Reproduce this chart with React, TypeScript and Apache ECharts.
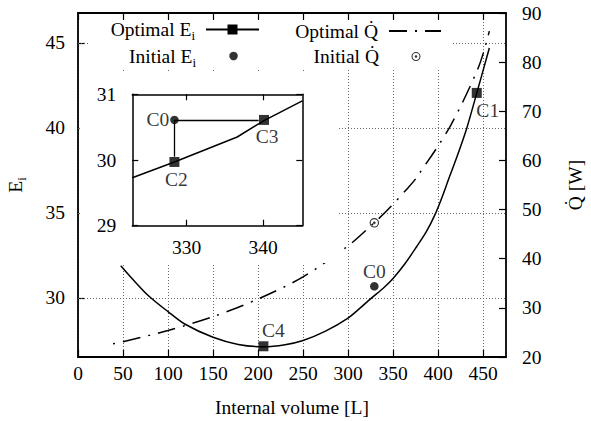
import React, { useEffect, useRef } from 'react';
import * as echarts from 'echarts';

// ---------- data ----------
const NAME_OPT_E = 'Optimal E_i';
const NAME_INIT_E = 'Initial E_i';
const NAME_OPT_Q = 'Optimal Q\u0307';
const NAME_INIT_Q = 'Initial Q\u0307';

const volumeE = [47.5, 60, 78, 100, 118.5, 150, 178, 206, 230, 250, 275, 300, 313, 325, 340, 350, 363, 376, 387, 397, 405, 411.5, 421, 432, 443, 457];
const optimalE = [31.9, 31.15, 30.15, 29.2, 28.47, 27.69, 27.27, 27.13, 27.25, 27.5, 28.05, 28.82, 29.39, 29.95, 30.62, 31.15, 32.0, 33.0, 33.9, 34.95, 36.0, 36.95, 38.3, 40.0, 42.05, 44.7];

const volumeQ = [39, 50, 100, 150, 200, 250, 300, 329, 344.4, 365, 376, 413, 445, 457];
const optimalQ = [22.7, 23.1, 25.4, 28.2, 31.8, 36.3, 42.6, 47.3, 50.0, 54.1, 56.5, 66.8, 79.0, 86.3];

const optPointVolume = [206, 443];
const optPointE = [27.16, 42.06];
const optPointLabel = ['C4', 'C1'];

const initPointVolume = [329.2];
const initPointE = [30.69];
const initPointQ = [47.3];
const initPointLabel = ['C0'];

const insetVolume = [322.9, 328.4, 336.6, 340.1, 345.1];
const insetE = [29.73, 29.97, 30.35, 30.6, 30.9];
const insetOptVolume = [328.4, 340.1];
const insetOptE = [29.97, 30.61];
const insetOptLabel = ['C2', 'C3'];
const insetInitVolume = [328.4];
const insetInitE = [30.61];
const insetInitLabel = ['C0'];
const arrowEnds = [[339.4, 30.61], [328.4, 30.05]];

const xTicks = [0, 50, 100, 150, 200, 250, 300, 350, 400, 450];
const eTicks = [30, 35, 40, 45];
const insetXTicks = [330, 340];

// ---------- style ----------
const FONT = 'Liberation Serif';
const FS = 19.5;
const txt = { fontFamily: FONT, fontSize: FS, color: '#000' };
const subStyle = { fontFamily: FONT, fontSize: 13, color: '#000', padding: [12, 0, 0, 0] };
const axisLineStyle = { color: '#000', width: 1.8 };
const tickLine = { color: '#000', width: 1.2 };
const gridLineStyle = { color: '#666', width: 1, type: [1, 2] };
const ringSymbol =
  'path://M10,0A10,10,0,1,1,-10,0A10,10,0,1,1,10,0ZM7.6,0A7.6,7.6,0,1,0,-7.6,0A7.6,7.6,0,1,0,7.6,0ZM2.8,0A2.8,2.8,0,1,1,-2.8,0A2.8,2.8,0,1,1,2.8,0Z';

const fmtName = (n: string) => n.replace('_i', '{sub|i}');

const pointLabel = (extra: any) => ({
  show: true,
  ...txt,
  lineHeight: 22,
  formatter: (p: any) => p.name,
  ...extra,
});

function legendFor(name: string, right: number, top: number, itemWidth: number, itemHeight: number, extra: any = {}) {
  return {
    data: [name],
    orient: 'horizontal',
    align: 'right',
    right,
    top,
    itemWidth,
    itemHeight,
    padding: 0,
    itemGap: 0,
    selectedMode: false,
    formatter: fmtName,
    textStyle: { ...txt, lineHeight: 22, padding: [0, 6, 0, 0], rich: { sub: subStyle } },
    ...extra,
  };
}

function buildOption(): any {
  const mainXBase = {
    type: 'value',
    gridIndex: 0,
    min: 0,
    max: 475.5,
    interval: 50,
    axisLine: { show: true, onZero: false, lineStyle: axisLineStyle },
    axisTick: { show: true, inside: true, length: 7, lineStyle: tickLine, customValues: xTicks },
  };
  const insetXBase = {
    type: 'value',
    gridIndex: 1,
    min: 322.9,
    max: 345.1,
    z: 6,
    axisLine: { show: true, onZero: false, lineStyle: { color: '#000', width: 1.5 } },
    axisTick: { show: true, inside: true, length: 6, lineStyle: tickLine, customValues: insetXTicks },
    splitLine: { show: false },
  };
  const insetYBase = {
    type: 'value',
    gridIndex: 1,
    min: 29,
    max: 31,
    interval: 1,
    z: 6,
    axisLine: { show: true, onZero: false, lineStyle: { color: '#000', width: 1.5 } },
    axisTick: { show: true, inside: true, length: 6, lineStyle: tickLine },
    splitLine: { show: false },
  };

  return {
    animation: false,
    backgroundColor: '#fff',
    textStyle: { fontFamily: FONT },
    grid: [
      { left: 78, top: 13, width: 428, height: 344, containLabel: false, outerBoundsMode: 'none' },
      { left: 132.3, top: 94.3, width: 170, height: 131.4, containLabel: false, outerBoundsMode: 'none' },
    ],
    legend: [
      legendFor(NAME_OPT_E, 331, 18.5, 53, 12.5),
      legendFor(NAME_INIT_E, 353.2, 45, 53, 8.5),
      legendFor(NAME_OPT_Q, 149, 20, 52, 10, { itemStyle: { opacity: 0 }, lineStyle: { dashOffset: 0 } }),
      legendFor(NAME_INIT_Q, 170.5, 45.5, 52, 9),
    ],
    graphic: {
      elements: [
        { type: 'rect', z: 3, silent: true, shape: { x: 90, y: 20, width: 362, height: 48 }, style: { fill: '#fff' } },
        { type: 'rect', z: 3, silent: true, shape: { x: 79.6, y: 71, width: 258.4, height: 192 }, style: { fill: '#fff' } },
      ],
    },
    xAxis: [
      {
        ...mainXBase,
        position: 'bottom',
        name: 'Internal volume [L]',
        nameLocation: 'middle',
        nameGap: 40,
        nameTextStyle: txt,
        axisLabel: { ...txt, margin: 6, customValues: xTicks },
        splitLine: { show: true, lineStyle: gridLineStyle },
      },
      {
        ...mainXBase,
        position: 'top',
        axisLabel: { show: false },
        splitLine: { show: false },
      },
      {
        ...insetXBase,
        position: 'bottom',
        axisLabel: { ...txt, margin: 12, customValues: insetXTicks },
      },
      {
        ...insetXBase,
        position: 'top',
        axisLabel: { show: false },
      },
    ],
    yAxis: [
      {
        type: 'value',
        gridIndex: 0,
        position: 'left',
        min: 26.53,
        max: 46.76,
        name: 'E{sub|i}',
        nameLocation: 'middle',
        nameRotate: 90,
        nameGap: 50,
        nameTextStyle: { ...txt, rich: { sub: subStyle } },
        axisLine: { show: true, onZero: false, lineStyle: axisLineStyle },
        axisTick: { show: true, inside: true, length: 7, lineStyle: tickLine, customValues: eTicks },
        axisLabel: { ...txt, margin: 13, customValues: eTicks },
        splitLine: { show: false },
      },
      {
        type: 'value',
        gridIndex: 0,
        position: 'right',
        min: 20,
        max: 90,
        interval: 10,
        name: 'Q\u0307 [W]',
        nameLocation: 'middle',
        nameRotate: 90,
        nameGap: 59,
        nameTextStyle: txt,
        axisLine: { show: true, onZero: false, lineStyle: axisLineStyle },
        axisTick: { show: true, inside: true, length: 7, lineStyle: tickLine },
        axisLabel: { ...txt, margin: 16 },
        splitLine: { show: false },
      },
      { ...insetYBase, position: 'left', axisLabel: { ...txt, margin: 16 } },
      { ...insetYBase, position: 'right', axisLabel: { show: false } },
    ],
    series: [
      {
        name: NAME_OPT_E,
        type: 'line',
        xAxisIndex: 0,
        yAxisIndex: 0,
        data: volumeE.map((v, i) => [v, optimalE[i]]),
        smooth: 0.3,
        symbol: 'rect',
        symbolSize: 10,
        showSymbol: false,
        itemStyle: { color: '#000' },
        lineStyle: { color: '#000', width: 1.5 },
        silent: true,
        z: 2,
        markLine: {
          silent: true,
          z: 2,
          symbol: 'none',
          label: { show: false },
          lineStyle: gridLineStyle,
          emphasis: { disabled: true },
          data: eTicks.map((v) => ({ yAxis: v })),
        },
      },
      {
        name: NAME_OPT_E,
        type: 'scatter',
        xAxisIndex: 0,
        yAxisIndex: 0,
        symbol: 'rect',
        symbolSize: 10,
        itemStyle: { color: '#000' },
        z: 2,
        data: optPointVolume.map((v, i) => ({
          name: optPointLabel[i],
          value: [v, optPointE[i]],
          label: i === 0 ? { position: 'top', distance: 0, offset: [10, 0] } : { position: 'bottom', distance: 2, offset: [11, 0] },
        })),
        label: pointLabel({}),
      },
      {
        name: NAME_INIT_E,
        type: 'scatter',
        xAxisIndex: 0,
        yAxisIndex: 0,
        symbol: 'circle',
        symbolSize: 8.5,
        itemStyle: { color: '#000' },
        z: 2,
        data: initPointVolume.map((v, i) => ({ name: initPointLabel[i], value: [v, initPointE[i]] })),
        label: pointLabel({ position: 'top', distance: 0 }),
      },
      {
        name: NAME_OPT_Q,
        type: 'line',
        xAxisIndex: 0,
        yAxisIndex: 1,
        data: volumeQ.map((v, i) => [v, optimalQ[i]]),
        smooth: 0.3,
        symbol: 'circle',
        showSymbol: false,
        itemStyle: { color: '#000' },
        lineStyle: { color: '#000', width: 1.5, type: [18, 8, 2, 8], dashOffset: 26 },
        silent: true,
        z: 2,
      },
      {
        name: NAME_INIT_Q,
        type: 'scatter',
        xAxisIndex: 0,
        yAxisIndex: 1,
        symbol: ringSymbol,
        symbolSize: 9.5,
        itemStyle: { color: '#000' },
        z: 2,
        data: initPointVolume.map((v, i) => [v, initPointQ[i]]),
      },
      // inset
      {
        name: 'inset curve',
        type: 'line',
        xAxisIndex: 2,
        yAxisIndex: 2,
        data: insetVolume.map((v, i) => [v, insetE[i]]),
        symbol: 'none',
        lineStyle: { color: '#000', width: 1.5 },
        silent: true,
        z: 6,
      },
      {
        name: 'inset optimal',
        type: 'scatter',
        xAxisIndex: 2,
        yAxisIndex: 2,
        symbol: 'rect',
        symbolSize: 10,
        itemStyle: { color: '#000' },
        z: 7,
        data: insetOptVolume.map((v, i) => ({
          name: insetOptLabel[i],
          value: [v, insetOptE[i]],
          label: i === 0 ? { position: 'bottom', distance: 2, offset: [2, 0] } : { position: 'bottom', distance: 1, offset: [3, 0] },
        })),
        label: pointLabel({}),
      },
      {
        name: 'inset initial',
        type: 'scatter',
        xAxisIndex: 2,
        yAxisIndex: 2,
        symbol: 'circle',
        symbolSize: 8.5,
        itemStyle: { color: '#000' },
        z: 7,
        data: insetInitVolume.map((v, i) => ({ name: insetInitLabel[i], value: [v, insetInitE[i]] })),
        label: pointLabel({ position: 'left', distance: 1 }),
        markLine: {
          silent: true,
          z: 7,
          symbol: ['none', 'arrow'],
          symbolSize: [0, 7],
          label: { show: false },
          lineStyle: { color: '#000', width: 1.3, type: 'solid' },
          emphasis: { disabled: true },
          data: arrowEnds.map((end) => [
            { coord: [insetInitVolume[0], insetInitE[0]] },
            { coord: end },
          ]),
        },
      },
    ],
  };
}

export default function App() {
  const ref = useRef<HTMLDivElement>(null);
  useEffect(() => {
    if (!ref.current) return;
    const chart = echarts.init(ref.current, null, { renderer: 'svg' });
    chart.setOption(buildOption());
    return () => chart.dispose();
  }, []);
  return (
    <div
      ref={ref}
      style={{ position: 'fixed', left: 0, top: 0, width: 591, height: 421, background: '#fff' }}
    />
  );
}
